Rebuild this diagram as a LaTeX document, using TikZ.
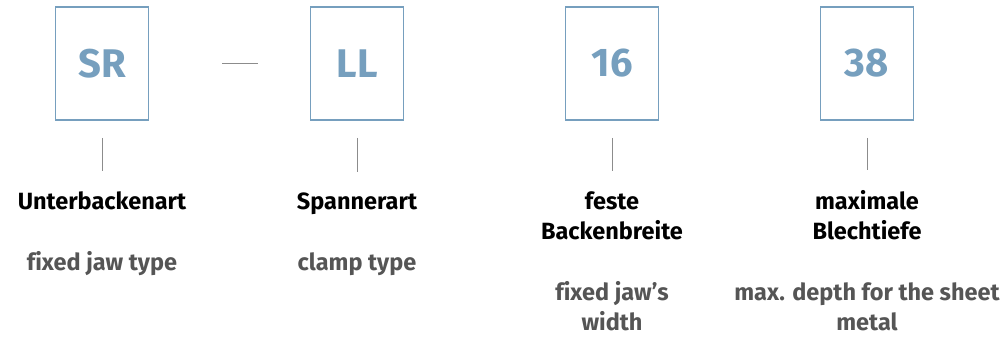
\documentclass[tikz,border=0pt]{standalone}
\usepackage{fontspec}
\setmainfont{Fira Sans}[Ligatures=NoCommon]
\definecolor{codeblue}{HTML}{769FBE}
\definecolor{notegray}{HTML}{555555}
\definecolor{tickgray}{HTML}{8C8C8C}

\begin{document}
\begin{tikzpicture}[x=1pt, y=1pt, font=\bfseries,
  codebox/.style={draw=codeblue, line width=1.5pt, minimum width=93pt, minimum height=113pt,
    inner sep=0pt, text=codeblue, font=\fontsize{40}{40}\selectfont\bfseries},
  dename/.style={align=center, inner sep=0pt, font=\fontsize{23.5}{30}\selectfont\bfseries},
  enname/.style={dename, text=notegray},
  tick/.style={draw=tickgray, line width=1pt}]
  \useasboundingbox (0,0) rectangle (1005,-341);
  \foreach \i/\x/\code in {1/102/SR, 2/357/LL, 3/612/16, 4/867/38}
    \node[codebox] (b\i) at (\x,-63.5) {\code};
  % base anchor sits on the last line
  \foreach \i/\x/\y/\txt in {1/102/209/Unterbackenart, 2/357/209/Spannerart, 3/612/239/feste\\Backenbreite, 4/867/239/maximale\\Blechtiefe}
    \node[dename, anchor=base] (de\i) at (\x,-\y) {\txt};
  \foreach \i/\x/\y/\txt in {1/102/270/fixed jaw type, 2/357/270/clamp type, 3/612/330/fixed jaw’s\\width, 4/867/330/max. depth for the sheet\\metal}
    \node[enname, anchor=base] (en\i) at (\x,-\y) {\txt};
  \foreach \i in {1,...,4}
    \draw[tick, shorten <=17pt, shorten >=20pt] (b\i.south) -- (de\i.north);
  \draw[tick, shorten <=73pt, shorten >=52pt] (b1.east) -- (b2.west);
\end{tikzpicture}
\end{document}
